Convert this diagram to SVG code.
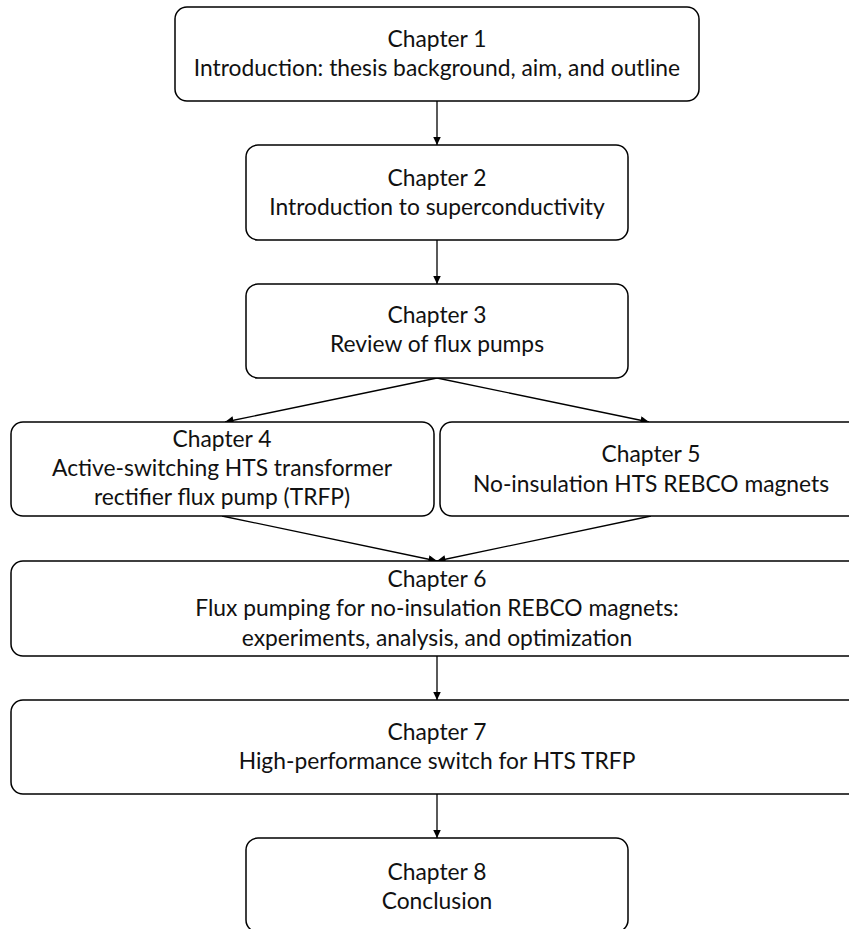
<svg xmlns="http://www.w3.org/2000/svg" width="849" height="929" viewBox="0 0 849 929">
<defs>
<style>
.box{fill:#fff;stroke:#000;stroke-width:1.5}
.t{font-family:Lato,"Liberation Sans",sans-serif;font-size:22.8px;fill:#111;text-anchor:middle}
.c{fill:none;stroke:#000;stroke-width:1.3}
</style>
<marker id="ah" markerUnits="userSpaceOnUse" markerWidth="9" markerHeight="9" refX="8.5" refY="4" orient="auto">
<path d="M0,0 L8.5,4 L0,8 z" fill="#000"/>
</marker>
</defs>
<rect width="849" height="929" fill="#fff"/>
<g id="connectors">
<line class="c" x1="437" y1="101" x2="437" y2="145" marker-end="url(#ah)"/>
<line class="c" x1="437" y1="240" x2="437" y2="284" marker-end="url(#ah)"/>
<line class="c" x1="437" y1="378" x2="225" y2="422" marker-end="url(#ah)"/>
<line class="c" x1="437" y1="378" x2="649" y2="422" marker-end="url(#ah)"/>
<line class="c" x1="222" y1="516" x2="437" y2="561" marker-end="url(#ah)"/>
<line class="c" x1="651" y1="516" x2="437" y2="561" marker-end="url(#ah)"/>
<line class="c" x1="437" y1="656" x2="437" y2="700" marker-end="url(#ah)"/>
<line class="c" x1="437" y1="794" x2="437" y2="838" marker-end="url(#ah)"/>
</g>
<g id="ch1">
<rect class="box" x="175" y="7" width="524" height="94" rx="12"/>
<text class="t" x="437" y="47">Chapter 1</text>
<text class="t" x="437" y="76">Introduction: thesis background, aim, and outline</text>
</g>
<g id="ch2">
<rect class="box" x="246" y="145" width="382" height="95" rx="12"/>
<text class="t" x="437" y="186">Chapter 2</text>
<text class="t" x="437" y="215">Introduction to superconductivity</text>
</g>
<g id="ch3">
<rect class="box" x="246" y="284" width="382" height="94" rx="12"/>
<text class="t" x="437" y="323">Chapter 3</text>
<text class="t" x="437" y="352">Review of flux pumps</text>
</g>
<g id="ch4">
<rect class="box" x="11" y="422" width="423" height="94" rx="12"/>
<text class="t" x="222" y="447">Chapter 4</text>
<text class="t" x="222" y="476">Active-switching HTS transformer</text>
<text class="t" x="222" y="505">rectifier flux pump (TRFP)</text>
</g>
<g id="ch5">
<rect class="box" x="440" y="422" width="423" height="94" rx="12"/>
<text class="t" x="651" y="462">Chapter 5</text>
<text class="t" x="651" y="492">No-insulation HTS REBCO magnets</text>
</g>
<g id="ch6">
<rect class="box" x="11" y="561" width="852" height="95" rx="12"/>
<text class="t" x="437" y="587">Chapter 6</text>
<text class="t" x="437" y="616">Flux pumping for no-insulation REBCO magnets:</text>
<text class="t" x="437" y="646">experiments, analysis, and optimization</text>
</g>
<g id="ch7">
<rect class="box" x="11" y="700" width="852" height="94" rx="12"/>
<text class="t" x="437" y="740">Chapter 7</text>
<text class="t" x="437" y="769">High-performance switch for HTS TRFP</text>
</g>
<g id="ch8">
<rect class="box" x="246" y="838" width="382" height="94" rx="12"/>
<text class="t" x="437" y="880">Chapter 8</text>
<text class="t" x="437" y="909">Conclusion</text>
</g>
</svg>
